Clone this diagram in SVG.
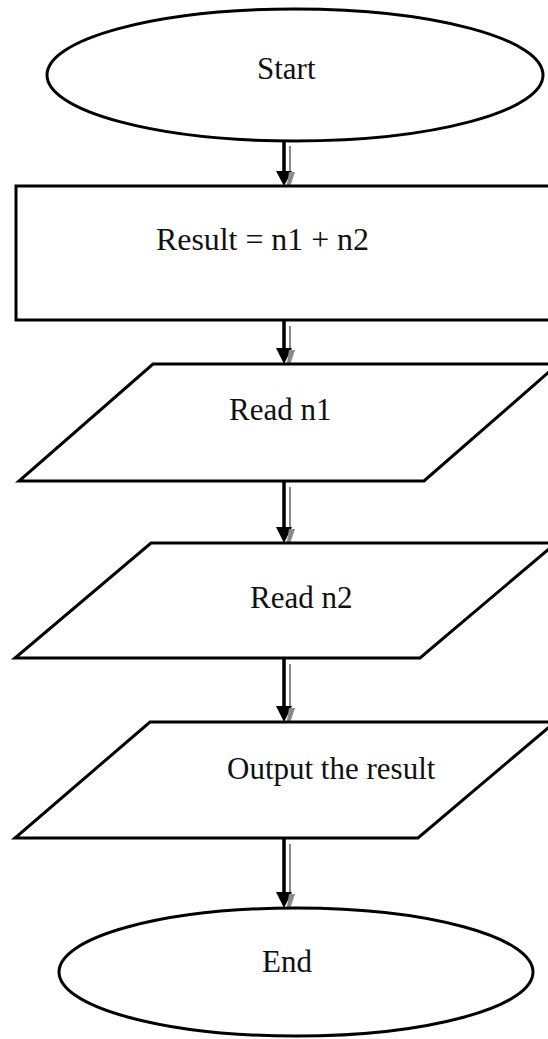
<svg xmlns="http://www.w3.org/2000/svg" width="548" height="1039" viewBox="0 0 548 1039">
<style>
.shape{fill:#fff;stroke:#000;stroke-width:3}
.lbl{font-family:"Liberation Serif","Times New Roman",serif;font-size:31px;fill:#111}
.shaft{stroke:#000;stroke-width:3.5}
.shadow{stroke:#8a8a8a;stroke-width:2}
.head{fill:#000}
.shead{fill:#8a8a8a}
</style>
<rect width="548" height="1039" fill="#fff"/>
<g id="connectors">
  <g id="c1">
    <line class="shadow" x1="290" y1="146" x2="290" y2="176"/>
    <line class="shaft" x1="284" y1="141" x2="284" y2="172"/>
    <polygon class="head" points="276,171 292,171 284,186"/>
    <polygon class="shead" points="289,172 295,172 289,190 286,190"/>
  </g>
  <g id="c2">
    <line class="shadow" x1="290" y1="326" x2="290" y2="354"/>
    <line class="shaft" x1="284" y1="320" x2="284" y2="350"/>
    <polygon class="head" points="276,348 292,348 284,364"/>
    <polygon class="shead" points="289,350 295,350 289,368 286,368"/>
  </g>
  <g id="c3">
    <line class="shadow" x1="290" y1="487" x2="290" y2="533"/>
    <line class="shaft" x1="284" y1="481" x2="284" y2="529"/>
    <polygon class="head" points="276,527 292,527 284,543"/>
    <polygon class="shead" points="289,529 295,529 289,547 286,547"/>
  </g>
  <g id="c4">
    <line class="shadow" x1="290" y1="664" x2="290" y2="712"/>
    <line class="shaft" x1="284" y1="658" x2="284" y2="708"/>
    <polygon class="head" points="276,706 292,706 284,722"/>
    <polygon class="shead" points="289,708 295,708 289,726 286,726"/>
  </g>
  <g id="c5">
    <line class="shadow" x1="290" y1="844" x2="290" y2="898"/>
    <line class="shaft" x1="284" y1="838" x2="284" y2="894"/>
    <polygon class="head" points="276,892 292,892 284,908"/>
    <polygon class="shead" points="289,894 295,894 289,912 286,912"/>
  </g>
</g>
<g id="start">
  <ellipse class="shape" cx="295" cy="75" rx="248" ry="66"/>
  <text class="lbl" x="257" y="79">Start</text>
</g>
<g id="process">
  <rect class="shape" x="16" y="186" width="540" height="134"/>
  <text class="lbl" x="156" y="250" textLength="213" lengthAdjust="spacingAndGlyphs">Result = n1 + n2</text>
</g>
<g id="read1">
  <polygon class="shape" points="153,364 558,364 424,481 19,481"/>
  <text class="lbl" x="229" y="420">Read n1</text>
</g>
<g id="read2">
  <polygon class="shape" points="151,543 556,543 420,658 15,658"/>
  <text class="lbl" x="250" y="608">Read n2</text>
</g>
<g id="output">
  <polygon class="shape" points="150,722 555,722 418,838 15,838"/>
  <text class="lbl" x="227" y="779">Output the result</text>
</g>
<g id="end">
  <ellipse class="shape" cx="296" cy="972" rx="237" ry="64"/>
  <text class="lbl" x="262" y="972">End</text>
</g>
</svg>
